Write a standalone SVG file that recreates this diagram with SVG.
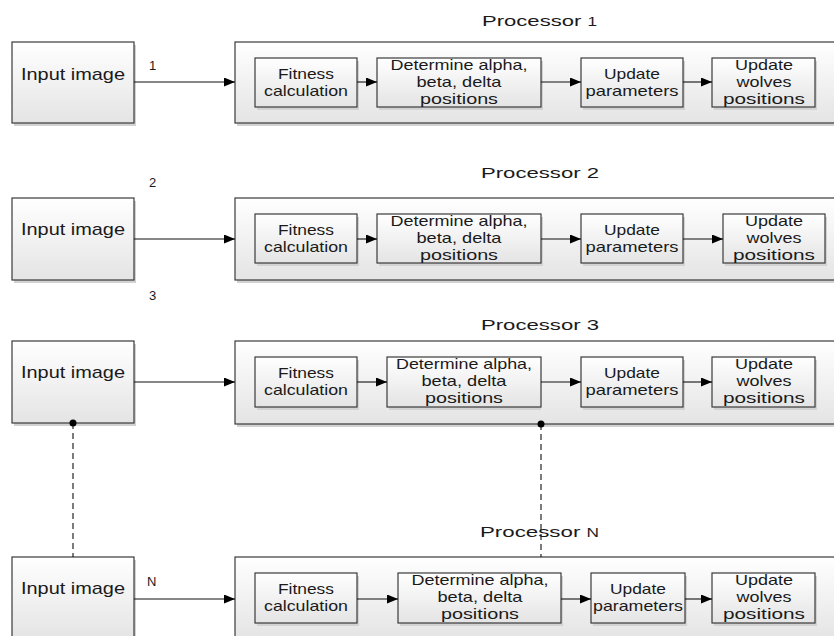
<svg xmlns="http://www.w3.org/2000/svg" width="834" height="636" viewBox="0 0 834 636">
<defs>
<linearGradient id="g" x1="0" y1="0" x2="0" y2="1">
<stop offset="0" stop-color="#ffffff"/>
<stop offset="1" stop-color="#e4e4e4"/>
</linearGradient>
<marker id="ah" markerUnits="userSpaceOnUse" markerWidth="12" markerHeight="9" refX="11" refY="4.5" orient="auto">
<path d="M0,0 L11,4.5 L0,9 z" fill="#000"/>
</marker>
</defs>
<style>
.bx{fill:url(#g);stroke:#3a3a3a;stroke-width:1.2}
.sh{fill:#d2d2d2}
text{font-family:"Liberation Sans",Arial,sans-serif;fill:#1a1a1a}
.in{font-size:17px;text-anchor:middle}
.t{font-size:15px;text-anchor:middle}
.p{font-size:15.5px}
.lb{font-size:13px}
.ar{stroke:#111;stroke-width:1.1;fill:none;marker-end:url(#ah)}
.da{stroke:#111;stroke-width:1.1;fill:none;stroke-dasharray:6,4}
</style>

<!-- Row 1 -->
<g id="input1">
<rect class="sh" x="14" y="45" width="122" height="81"/>
<rect class="bx" x="12" y="42" width="122" height="81"/>
<text class="in" x="73" y="80" textLength="104" lengthAdjust="spacingAndGlyphs">Input image</text>
</g>
<g id="proc1">
<rect class="sh" x="237" y="45" width="620" height="81"/>
<rect class="bx" x="235" y="42" width="620" height="81"/>
<text class="p" x="482" y="26" textLength="115" lengthAdjust="spacingAndGlyphs">Processor <tspan font-size="12">1</tspan></text>
</g>
<g id="fit1">
<rect class="sh" x="257" y="61" width="102" height="49"/>
<rect class="bx" x="255" y="58" width="102" height="49"/>
<text class="t" x="306" y="79" textLength="56" lengthAdjust="spacingAndGlyphs">Fitness</text>
<text class="t" x="306" y="96" textLength="84" lengthAdjust="spacingAndGlyphs">calculation</text>
</g>
<g id="det1">
<rect class="sh" x="379" y="61" width="164" height="49"/>
<rect class="bx" x="377" y="58" width="164" height="49"/>
<text class="t" x="459" y="70" textLength="137" lengthAdjust="spacingAndGlyphs">Determine alpha,</text>
<text class="t" x="459" y="87" textLength="85" lengthAdjust="spacingAndGlyphs">beta, delta</text>
<text class="t" x="459" y="104" textLength="78" lengthAdjust="spacingAndGlyphs">positions</text>
</g>
<g id="upd1">
<rect class="sh" x="583" y="61" width="102" height="49"/>
<rect class="bx" x="581" y="58" width="102" height="49"/>
<text class="t" x="632" y="79" textLength="56" lengthAdjust="spacingAndGlyphs">Update</text>
<text class="t" x="632" y="96" textLength="93" lengthAdjust="spacingAndGlyphs">parameters</text>
</g>
<g id="wol1">
<rect class="sh" x="714" y="61" width="103" height="49"/>
<rect class="bx" x="712" y="58" width="103" height="49"/>
<text class="t" x="764" y="70" textLength="58" lengthAdjust="spacingAndGlyphs">Update</text>
<text class="t" x="764" y="87" textLength="55" lengthAdjust="spacingAndGlyphs">wolves</text>
<text class="t" x="764" y="104" textLength="82" lengthAdjust="spacingAndGlyphs">positions</text>
</g>

<!-- Row 2 -->
<g id="input2">
<rect class="sh" x="14" y="201" width="122" height="82"/>
<rect class="bx" x="12" y="198" width="122" height="82"/>
<text class="in" x="73" y="235" textLength="104" lengthAdjust="spacingAndGlyphs">Input image</text>
</g>
<g id="proc2">
<rect class="sh" x="237" y="201" width="620" height="82"/>
<rect class="bx" x="235" y="198" width="620" height="82"/>
<text class="p" x="481" y="178" textLength="118" lengthAdjust="spacingAndGlyphs">Processor 2</text>
</g>
<g id="fit2">
<rect class="sh" x="257" y="217" width="102" height="49"/>
<rect class="bx" x="255" y="214" width="102" height="49"/>
<text class="t" x="306" y="235" textLength="56" lengthAdjust="spacingAndGlyphs">Fitness</text>
<text class="t" x="306" y="252" textLength="84" lengthAdjust="spacingAndGlyphs">calculation</text>
</g>
<g id="det2">
<rect class="sh" x="379" y="217" width="164" height="49"/>
<rect class="bx" x="377" y="214" width="164" height="49"/>
<text class="t" x="459" y="226" textLength="137" lengthAdjust="spacingAndGlyphs">Determine alpha,</text>
<text class="t" x="459" y="243" textLength="85" lengthAdjust="spacingAndGlyphs">beta, delta</text>
<text class="t" x="459" y="260" textLength="78" lengthAdjust="spacingAndGlyphs">positions</text>
</g>
<g id="upd2">
<rect class="sh" x="583" y="217" width="102" height="49"/>
<rect class="bx" x="581" y="214" width="102" height="49"/>
<text class="t" x="632" y="235" textLength="56" lengthAdjust="spacingAndGlyphs">Update</text>
<text class="t" x="632" y="252" textLength="93" lengthAdjust="spacingAndGlyphs">parameters</text>
</g>
<g id="wol2">
<rect class="sh" x="725" y="217" width="102" height="49"/>
<rect class="bx" x="723" y="214" width="102" height="49"/>
<text class="t" x="774" y="226" textLength="58" lengthAdjust="spacingAndGlyphs">Update</text>
<text class="t" x="774" y="243" textLength="55" lengthAdjust="spacingAndGlyphs">wolves</text>
<text class="t" x="774" y="260" textLength="82" lengthAdjust="spacingAndGlyphs">positions</text>
</g>

<!-- Row 3 -->
<g id="input3">
<rect class="sh" x="14" y="344" width="122" height="82"/>
<rect class="bx" x="12" y="341" width="122" height="82"/>
<text class="in" x="73" y="378" textLength="104" lengthAdjust="spacingAndGlyphs">Input image</text>
</g>
<g id="proc3">
<rect class="sh" x="237" y="344" width="620" height="83"/>
<rect class="bx" x="235" y="341" width="620" height="83"/>
<text class="p" x="481" y="330" textLength="118" lengthAdjust="spacingAndGlyphs">Processor 3</text>
</g>
<g id="fit3">
<rect class="sh" x="257" y="360" width="102" height="50"/>
<rect class="bx" x="255" y="357" width="102" height="50"/>
<text class="t" x="306" y="378" textLength="56" lengthAdjust="spacingAndGlyphs">Fitness</text>
<text class="t" x="306" y="395" textLength="84" lengthAdjust="spacingAndGlyphs">calculation</text>
</g>
<g id="det3">
<rect class="sh" x="389" y="360" width="152" height="50"/>
<rect class="bx" x="387" y="357" width="154" height="50"/>
<text class="t" x="464" y="369" textLength="136" lengthAdjust="spacingAndGlyphs">Determine alpha,</text>
<text class="t" x="464" y="386" textLength="85" lengthAdjust="spacingAndGlyphs">beta, delta</text>
<text class="t" x="464" y="403" textLength="78" lengthAdjust="spacingAndGlyphs">positions</text>
</g>
<g id="upd3">
<rect class="sh" x="583" y="360" width="102" height="50"/>
<rect class="bx" x="581" y="357" width="102" height="50"/>
<text class="t" x="632" y="378" textLength="56" lengthAdjust="spacingAndGlyphs">Update</text>
<text class="t" x="632" y="395" textLength="93" lengthAdjust="spacingAndGlyphs">parameters</text>
</g>
<g id="wol3">
<rect class="sh" x="714" y="360" width="103" height="50"/>
<rect class="bx" x="712" y="357" width="103" height="50"/>
<text class="t" x="764" y="369" textLength="58" lengthAdjust="spacingAndGlyphs">Update</text>
<text class="t" x="764" y="386" textLength="55" lengthAdjust="spacingAndGlyphs">wolves</text>
<text class="t" x="764" y="403" textLength="82" lengthAdjust="spacingAndGlyphs">positions</text>
</g>

<!-- Row N -->
<g id="inputN">
<rect class="sh" x="14" y="560" width="122" height="82"/>
<rect class="bx" x="12" y="557" width="122" height="82"/>
<text class="in" x="73" y="594" textLength="104" lengthAdjust="spacingAndGlyphs">Input image</text>
</g>
<g id="procN">
<rect class="sh" x="237" y="560" width="620" height="82"/>
<rect class="bx" x="235" y="557" width="620" height="82"/>
<text class="p" x="480" y="537" textLength="119" lengthAdjust="spacingAndGlyphs">Processor <tspan font-size="12">N</tspan></text>
</g>
<g id="fitN">
<rect class="sh" x="257" y="576" width="102" height="50"/>
<rect class="bx" x="255" y="573" width="102" height="50"/>
<text class="t" x="306" y="594" textLength="56" lengthAdjust="spacingAndGlyphs">Fitness</text>
<text class="t" x="306" y="611" textLength="84" lengthAdjust="spacingAndGlyphs">calculation</text>
</g>
<g id="detN">
<rect class="sh" x="400" y="576" width="163" height="50"/>
<rect class="bx" x="398" y="573" width="163" height="50"/>
<text class="t" x="480" y="585" textLength="137" lengthAdjust="spacingAndGlyphs">Determine alpha,</text>
<text class="t" x="480" y="602" textLength="85" lengthAdjust="spacingAndGlyphs">beta, delta</text>
<text class="t" x="480" y="619" textLength="78" lengthAdjust="spacingAndGlyphs">positions</text>
</g>
<g id="updN">
<rect class="sh" x="593" y="576" width="94" height="50"/>
<rect class="bx" x="591" y="573" width="94" height="50"/>
<text class="t" x="638" y="594" textLength="56" lengthAdjust="spacingAndGlyphs">Update</text>
<text class="t" x="638" y="611" textLength="90" lengthAdjust="spacingAndGlyphs">parameters</text>
</g>
<g id="wolN">
<rect class="sh" x="714" y="576" width="103" height="50"/>
<rect class="bx" x="712" y="573" width="103" height="50"/>
<text class="t" x="764" y="585" textLength="58" lengthAdjust="spacingAndGlyphs">Update</text>
<text class="t" x="764" y="602" textLength="55" lengthAdjust="spacingAndGlyphs">wolves</text>
<text class="t" x="764" y="619" textLength="82" lengthAdjust="spacingAndGlyphs">positions</text>
</g>

<!-- Connectors -->
<g id="connectors">
<path class="ar" d="M134,82 H235"/>
<path class="ar" d="M357,82 H377"/>
<path class="ar" d="M541,82 H581"/>
<path class="ar" d="M683,82 H712"/>

<path class="ar" d="M134,239 H235"/>
<path class="ar" d="M357,239 H377"/>
<path class="ar" d="M541,239 H581"/>
<path class="ar" d="M683,239 H723"/>

<path class="ar" d="M134,382 H235"/>
<path class="ar" d="M357,382 H387"/>
<path class="ar" d="M541,382 H581"/>
<path class="ar" d="M683,382 H712"/>

<path class="ar" d="M134,599 H235"/>
<path class="ar" d="M357,599 H398"/>
<path class="ar" d="M561,599 H591"/>
<path class="ar" d="M685,599 H712"/>

<path class="da" d="M73,423 V557"/>
<path class="da" d="M541,424 V557"/>
<circle cx="73" cy="423" r="3.5" fill="#000"/>
<circle cx="541" cy="424" r="3.5" fill="#000"/>

<text class="lb" x="149" y="70">1</text>
<text class="lb" x="149" y="187">2</text>
<text class="lb" x="149" y="300">3</text>
<text class="lb" x="147" y="586">N</text>
</g>
</svg>
